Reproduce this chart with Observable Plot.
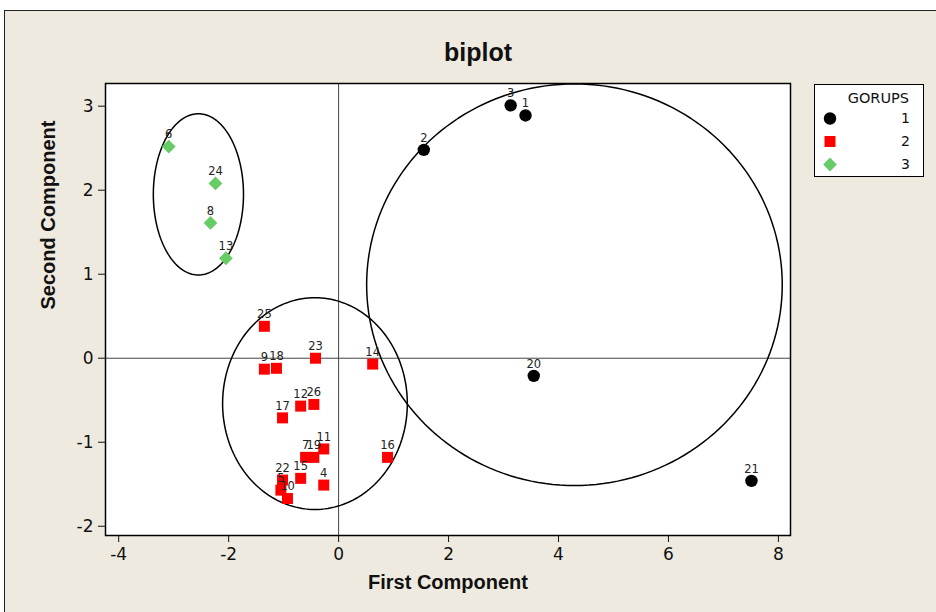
<!DOCTYPE html>
<html><head><meta charset="utf-8">
<script src="https://cdn.jsdelivr.net/npm/d3@7"></script>
<script src="https://cdn.jsdelivr.net/npm/@observablehq/plot@0.6"></script>
<style>
body{margin:0;background:#fff;}
#wrap{position:relative;width:936px;height:612px;overflow:hidden;background:#fff;font-family:"DejaVu Sans",sans-serif;}
#panel{position:absolute;left:4px;top:10px;width:960px;height:640px;background:#eeeadf;border:1.5px solid #222;}
#title{position:absolute;left:0;top:36px;width:956px;text-align:center;font-family:"Liberation Sans",sans-serif;font-weight:bold;font-size:25px;line-height:32px;color:#111;}
#chart{position:absolute;left:0;top:73px;}
#legend{position:absolute;left:814px;top:84px;width:110px;height:93px;background:#fff;border:1px solid #000;box-sizing:border-box;padding-top:4px;font-size:14px;color:#111;}
#legend .lt{height:18px;line-height:18px;text-align:right;padding-right:14px;font-size:14.5px;}
#legend .row{position:relative;height:23px;line-height:23px;text-align:right;padding-right:13px;}
#legend svg{position:absolute;left:4px;top:0;}
</style></head>
<body>
<div id="wrap">
  <div id="panel"></div>
  <div id="title">biplot</div>
  <div id="chart"></div>
  <div id="legend"></div>
</div>
<script>
const ids = [1,2,3,4,5,6,7,8,9,10,11,12,13,14,15,16,17,18,19,20,21,22,23,24,25,26];
const pc1 = [3.40,1.55,3.13,-0.27,-1.05,-3.09,-0.60,-2.33,-1.35,-0.93,-0.27,-0.69,-2.05,0.62,-0.69,0.89,-1.02,-1.13,-0.45,3.55,7.51,-1.02,-0.42,-2.24,-1.35,-0.45];
const pc2 = [2.89,2.48,3.01,-1.51,-1.57,2.52,-1.18,1.61,-0.13,-1.67,-1.08,-0.57,1.19,-0.07,-1.43,-1.18,-0.71,-0.12,-1.18,-0.21,-1.46,-1.45,0.00,2.08,0.38,-0.55];
const grp = [1,1,1,2,2,3,2,3,2,2,2,2,3,2,2,2,2,2,2,1,1,2,2,3,2,2];

const groups = [1,2,3];
const groupColors = ["#000000","#ff0000","#66cc66"];
const groupSymbols = ["circle","square","diamond2"];

// ellipse outlines per group (centre and semi-axes, in data units)
const ellCx = [4.29,-0.43,-2.55];
const ellCy = [0.875,-0.54,1.95];
const ellRx = [3.78,1.68,0.82];
const ellRy = [2.39,1.26,0.96];

const xTicks = [-4,-2,0,2,4,6,8];
const yTicks = [-2,-1,0,1,2,3];

const data = ids.map((id,i)=>({id, x:pc1[i], y:pc2[i], g:grp[i]}));
const ellPts = groups.flatMap((g,k)=> d3.range(0,361,2).map(a=>({
  g, x: ellCx[k] + ellRx[k]*Math.cos(a*Math.PI/180),
     y: ellCy[k] + ellRy[k]*Math.sin(a*Math.PI/180)})));

const fmt = d => String(d);

const chart = Plot.plot({
  width:936, height:539,
  marginLeft:105, marginRight:146, marginTop:10, marginBottom:77,
  style:{background:"transparent", fontFamily:"DejaVu Sans", color:"#111"},
  x:{domain:[-4.24,8.22]},
  y:{domain:[-2.11,3.27]},
  color:{domain:groups, range:groupColors},
  symbol:{domain:groups, range:groupSymbols},
  marks:[
    Plot.frame({fill:"white", stroke:"none"}),
    Plot.ruleX([0],{stroke:"#444", strokeWidth:1}),
    Plot.ruleY([0],{stroke:"#444", strokeWidth:1}),
    Plot.line(ellPts,{x:"x", y:"y", z:"g", stroke:"black", strokeWidth:1.5, clip:true}),
    Plot.dot(data,{x:"x", y:"y", fill:"g", symbol:"g", r:6.2}),
    Plot.text(data,{x:"x", y:"y", text:"id", dy:-12, fontSize:11.5, fill:"#222"}),
    Plot.frame({stroke:"black", strokeWidth:1.5}),
    Plot.axisX({ticks:xTicks, tickFormat:fmt, tickSize:7, tickPadding:5, fontSize:17, label:null}),
    Plot.axisY({ticks:yTicks, tickFormat:fmt, tickSize:7, tickPadding:5, fontSize:17, label:null}),
    Plot.text(["First Component"],{frameAnchor:"bottom", dy:53, text:d=>d, fontSize:20, fontWeight:"bold", fontFamily:"Liberation Sans", fill:"#111"}),
    Plot.text(["Second Component"],{frameAnchor:"left", dx:-57, rotate:-90, text:d=>d, fontSize:20, fontWeight:"bold", fontFamily:"Liberation Sans", fill:"#111"})
  ]
});
document.getElementById("chart").appendChild(chart);

// legend
const leg = document.getElementById("legend");
const lt = document.createElement("div"); lt.className="lt"; lt.textContent="GORUPS"; leg.appendChild(lt);
const d3sym = {circle:d3.symbolCircle, square:d3.symbolSquare, diamond2:d3.symbolDiamond2};
groups.forEach((g,k)=>{
  const row = document.createElement("div"); row.className="row";
  const s = d3.create("svg").attr("width",22).attr("height",23);
  s.append("path").attr("transform","translate(11,11.5)")
    .attr("d", d3.symbol(d3sym[groupSymbols[k]], Math.PI*6.2*6.2)())
    .attr("fill", groupColors[k]);
  row.appendChild(s.node());
  row.appendChild(document.createTextNode(String(g)));
  leg.appendChild(row);
});
</script>
</body></html>
